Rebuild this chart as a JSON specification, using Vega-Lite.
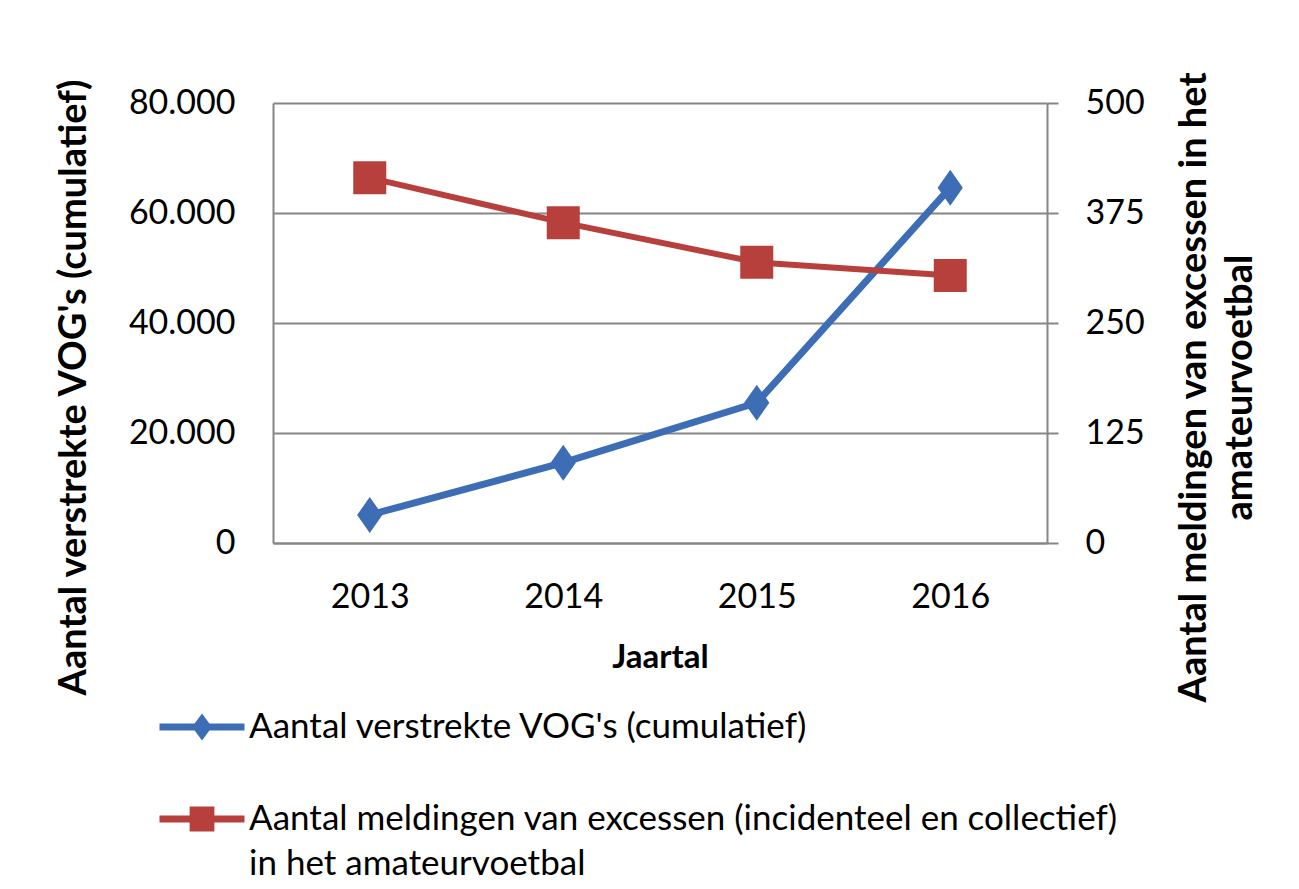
{
  "$schema": "https://vega.github.io/schema/vega-lite/v6.json",
  "width": 774,
  "height": 440,
  "autosize": "none",
  "padding": {"left": 273, "top": 103, "right": 252, "bottom": 346},
  "background": "white",
  "config": {
    "font": "Lato",
    "view": {"stroke": null},
    "axis": {
      "labelFont": "Lato",
      "titleFont": "Lato",
      "labelColor": "#000",
      "titleColor": "#000",
      "domainColor": "#868686",
      "domainWidth": 2,
      "gridColor": "#868686",
      "gridWidth": 2,
      "tickColor": "#868686",
      "tickWidth": 2
    }
  },
  "data": {
    "values": [
      {"Jaar": "2013", "Reeks": "Aantal verstrekte VOG's (cumulatief)", "Waarde": 5100},
      {"Jaar": "2014", "Reeks": "Aantal verstrekte VOG's (cumulatief)", "Waarde": 14600},
      {"Jaar": "2015", "Reeks": "Aantal verstrekte VOG's (cumulatief)", "Waarde": 25500},
      {"Jaar": "2016", "Reeks": "Aantal verstrekte VOG's (cumulatief)", "Waarde": 64600},
      {"Jaar": "2013", "Reeks": "Aantal meldingen van excessen (incidenteel en collectief) in het amateurvoetbal", "Waarde": 415},
      {"Jaar": "2014", "Reeks": "Aantal meldingen van excessen (incidenteel en collectief) in het amateurvoetbal", "Waarde": 364},
      {"Jaar": "2015", "Reeks": "Aantal meldingen van excessen (incidenteel en collectief) in het amateurvoetbal", "Waarde": 319},
      {"Jaar": "2016", "Reeks": "Aantal meldingen van excessen (incidenteel en collectief) in het amateurvoetbal", "Waarde": 304}
    ]
  },
  "encoding": {
    "x": {
      "field": "Jaar",
      "type": "ordinal",
      "axis": {
        "title": "Jaartal",
        "labelAngle": 0,
        "ticks": false,
        "labelFontSize": 34,
        "labelPadding": 37,
        "titleFontSize": 33,
        "titleFontWeight": "bold",
        "titleY": 98,
        "titleBaseline": "top"
      }
    }
  },
  "layer": [
    {
      "transform": [{"filter": "datum.Reeks === \"Aantal verstrekte VOG's (cumulatief)\""}],
      "encoding": {
        "y": {
          "field": "Waarde",
          "type": "quantitative",
          "scale": {"domain": [0, 80000], "nice": false},
          "axis": {
            "orient": "left",
            "values": [0, 20000, 40000, 60000, 80000],
            "grid": true,
            "ticks": false,
            "labelFontSize": 34,
            "labelPadding": 38,
            "labelExpr": "replace(format(datum.value, ','), ',', '.')",
            "title": "Aantal verstrekte VOG's (cumulatief)",
            "titleFontSize": 38,
            "titleFontWeight": "bold",
            "titleAngle": 270,
            "titleAlign": "center",
            "titleBaseline": "alphabetic",
            "titleX": -188,
            "titleY": 284
          }
        }
      },
      "layer": [
        {"mark": {"type": "line", "strokeWidth": 7, "color": "#3D6DB5"}},
        {
          "mark": {"type": "point", "filled": true, "opacity": 1, "size": 1296, "shape": "M0,-1L0.7,0L0,1L-0.7,0Z"},
          "encoding": {
            "color": {
              "field": "Reeks",
              "type": "nominal",
              "scale": {
                "domain": ["Aantal verstrekte VOG's (cumulatief)", "Aantal meldingen van excessen (incidenteel en collectief) in het amateurvoetbal"],
                "range": ["#3D6DB5", "#B7403D"]
              },
              "legend": {
                "orient": "none",
                "legendX": -91,
                "legendY": 604,
                "title": null,
                "direction": "vertical",
                "padding": 0,
                "labelFont": "Lato",
                "labelFontSize": 35,
                "labelColor": "#000",
                "labelLimit": 0,
                "labelOffset": 27,
                "symbolSize": 1600,
                "rowPadding": 54,
                "labelExpr": "datum.index === 1 ? ['Aantal meldingen van excessen (incidenteel en collectief)', 'in het amateurvoetbal'] : datum.label",
                "encoding": {
                  "symbols": {
                    "shape": {"value": {"expr": "datum.index === 0 ? 'M-2.125,-0.175H2.125V0.175H-2.125Z M0,-0.675L0.5,0L0,0.675L-0.5,0Z' : 'M-2.125,-0.175H2.125V0.175H-2.125Z M-0.62,-0.62H0.62V0.62H-0.62Z'"}},
                    "strokeWidth": {"value": 0},
                    "opacity": {"value": 1},
                    "fillOpacity": {"value": 1}
                  },
                  "labels": {
                    "lineHeight": {"value": 45}
                  }
                }
              }
            }
          }
        }
      ]
    },
    {
      "transform": [{"filter": "datum.Reeks !== \"Aantal verstrekte VOG's (cumulatief)\""}],
      "encoding": {
        "y": {
          "field": "Waarde",
          "type": "quantitative",
          "scale": {"domain": [0, 500], "nice": false},
          "axis": {
            "orient": "right",
            "values": [0, 125, 250, 375, 500],
            "grid": false,
            "ticks": true,
            "tickSize": 11,
            "labelFontSize": 34,
            "labelPadding": 27,
            "title": ["Aantal meldingen van excessen in het", "amateurvoetbal"],
            "titleFontSize": 38,
            "titleFontWeight": "bold",
            "titleAngle": 270,
            "titleAlign": "center",
            "titleBaseline": "alphabetic",
            "titleLineHeight": 46,
            "titleX": 158,
            "titleY": 284
          }
        }
      },
      "layer": [
        {"mark": {"type": "line", "strokeWidth": 6, "color": "#B7403D"}},
        {
          "mark": {"type": "point", "filled": true, "opacity": 1, "size": 1089, "shape": "square"},
          "encoding": {
            "color": {
              "field": "Reeks",
              "type": "nominal",
              "scale": {
                "domain": ["Aantal verstrekte VOG's (cumulatief)", "Aantal meldingen van excessen (incidenteel en collectief) in het amateurvoetbal"],
                "range": ["#3D6DB5", "#B7403D"]
              }
            }
          }
        }
      ]
    }
  ],
  "resolve": {"scale": {"y": "independent"}}
}
